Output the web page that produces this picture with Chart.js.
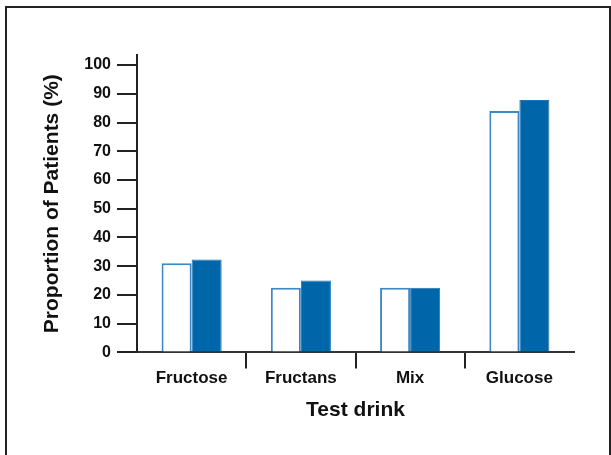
<!DOCTYPE html>
<html>
<head>
<meta charset="utf-8">
<script src="https://cdn.jsdelivr.net/npm/chart.js@4/dist/chart.umd.min.js"></script>
<style>
  html, body { margin: 0; padding: 0; background: #fff; }
  #wrap { position: relative; width: 611px; height: 455px; }
  #frame { position: absolute; left: 5px; top: 6px; width: 602px; height: 460px;
           border-left: 2px solid #222; border-top: 2px solid #222; border-right: 2px solid #222; }
  canvas { position: absolute; left: 0; top: 0; }
</style>
</head>
<body>
<div id="wrap">
  <div id="frame"></div>
  <canvas id="chart" width="611" height="455"></canvas>
</div>
<script>
// Test drinks and proportion of patients (%)
const drinks = ["Fructose", "Fructans", "Mix", "Glucose"];
const openSeries = [31, 22.5, 22.5, 84];
const filledSeries = [32.3, 25, 22.5, 87.8];
const yTicks = [0, 10, 20, 30, 40, 50, 60, 70, 80, 90, 100];

const font = "'Liberation Sans', Arial, sans-serif";

new Chart(document.getElementById("chart"), {
  type: "bar",
  data: {
    labels: drinks,
    datasets: [
      {
        data: openSeries,
        backgroundColor: "#ffffff",
        borderColor: "#3d88c6",
        borderWidth: 2,
        barPercentage: 1,
        categoryPercentage: 0.55
      },
      {
        data: filledSeries,
        backgroundColor: "#0066aa",
        borderColor: "#1f74b6",
        borderWidth: 1,
        barPercentage: 1,
        categoryPercentage: 0.55
      }
    ]
  },
  options: {
    responsive: false,
    animation: false,
    layout: { padding: { left: 32, right: 37, top: 55, bottom: 32 } },
    plugins: { legend: { display: false }, tooltip: { enabled: false } },
    scales: {
      x: {
        grid: {
          offset: true,
          drawOnChartArea: false,
          tickLength: 16,
          lineWidth: 2,
          color: ctx => (ctx.index === 0 || ctx.index === undefined) ? "rgba(0,0,0,0)" : "#222"
        },
        border: { display: true, color: "#333", width: 2 },
        ticks: { color: "#111", padding: 0, font: { family: font, size: 17, weight: "bold" } },
        title: {
          display: true, text: "Test drink", color: "#111",
          padding: { top: 9, bottom: 0 },
          font: { family: font, size: 21, weight: "bold" }
        }
      },
      y: {
        min: 0,
        max: 103.5,
        afterBuildTicks: scale => { scale.ticks = yTicks.map(v => ({ value: v })); },
        afterFit: scale => { scale.width = 137 - 32; },
        grid: { drawOnChartArea: false, tickLength: 20, lineWidth: 2, color: "#222" },
        border: { display: true, color: "#222", width: 2 },
        ticks: { color: "#111", padding: 6, font: { family: font, size: 16, weight: "bold" } },
        title: {
          display: true, text: "Proportion of Patients (%)", color: "#111",
          padding: { top: 8, bottom: 0 },
          font: { family: font, size: 21, weight: "bold" }
        }
      }
    }
  }
});
</script>
</body>
</html>
